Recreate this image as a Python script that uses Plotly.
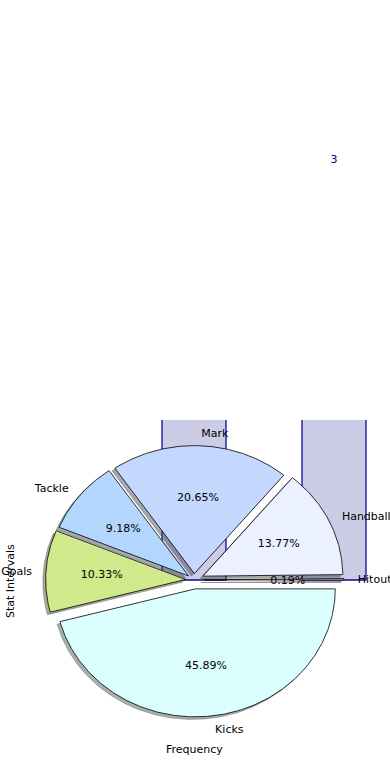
import numpy as np
import plotly.graph_objects as go

# ---- data ----
labels = ["Hitout", "Handball", "Mark", "Tackle", "Goals", "Kicks"]
shares = [0.19, 13.77, 20.65, 9.18, 10.33, 45.89]
bar_x = [0, 1]
bar_heights = [5, 3]
bar_labels = ["5", "3"]

# ---- style ----
colors = ["#e6e6fa", "#ebf1fe", "#c4d8ff", "#b3d6ff", "#cfe98b", "#dbffff"]
explode = [0.07, 0.07, 0.05, 0.05, 0.06, 0.07]
FONT = "DejaVu Sans"
FS = 11
W, H = 390, 780

fig = go.Figure()

# bars (clipped to the pie axes)
fig.add_trace(go.Bar(
    x=bar_x, y=bar_heights, width=0.457,
    marker=dict(color="rgba(0,0,128,0.2)", line=dict(color="#0a0a96", width=1.3)),
    xaxis="x", yaxis="y", showlegend=False, hoverinfo="skip"))

# pie geometry in data coordinates (radius 1, centre 0,0)
fr = np.array(shares, dtype=float) / np.sum(shares)
edges = np.concatenate([[0.0], np.cumsum(fr)]) * 2 * np.pi


def hex_rgb(h):
    h = h.lstrip("#")
    return [int(h[i:i + 2], 16) for i in (0, 2, 4)]


wedges = []
for i, lab in enumerate(labels):
    t1, t2 = edges[i], edges[i + 1]
    mid = 0.5 * (t1 + t2)
    dx, dy = explode[i] * np.cos(mid), explode[i] * np.sin(mid)
    n = max(3, int(np.degrees(t2 - t1) * 2))
    t = np.linspace(t1, t2, n)
    xs = np.concatenate([[dx], dx + np.cos(t), [dx]])
    ys = np.concatenate([[dy], dy + np.sin(t), [dy]])
    wedges.append((xs, ys, mid, dx, dy))

# shadows
for i, (xs, ys, mid, dx, dy) in enumerate(wedges):
    r, g, b = [int(0.3 * c) for c in hex_rgb(colors[i])]
    sc = f"rgba({r},{g},{b},0.45)"
    fig.add_trace(go.Scatter(
        x=xs - 0.02, y=ys - 0.02, mode="lines", fill="toself",
        fillcolor=sc, line=dict(color=sc, width=0.8),
        xaxis="x", yaxis="y", showlegend=False, hoverinfo="skip"))

# wedges
for i, (xs, ys, mid, dx, dy) in enumerate(wedges):
    fig.add_trace(go.Scatter(
        x=xs, y=ys, mode="lines", fill="toself",
        fillcolor=colors[i], line=dict(color="black", width=0.8),
        xaxis="x", yaxis="y", showlegend=False, hoverinfo="skip"))

# percentage texts and labels
for i, (xs, ys, mid, dx, dy) in enumerate(wedges):
    px_ = dx + 0.6 * np.cos(mid)
    py_ = dy + 0.6 * np.sin(mid)
    fig.add_trace(go.Scatter(
        x=[px_], y=[py_ - 0.01], mode="text", text=[f"{shares[i]:.2f}%"],
        textposition="middle center", textfont=dict(family=FONT, size=FS, color="black"),
        xaxis="x", yaxis="y", showlegend=False, hoverinfo="skip", cliponaxis=False))
    lx = dx + 1.1 * np.cos(mid)
    ly = dy + 1.1 * np.sin(mid)
    fig.add_trace(go.Scatter(
        x=[lx], y=[ly - 0.012], mode="text", text=[labels[i]],
        textposition="middle right" if lx > 0 else "middle left",
        textfont=dict(family=FONT, size=FS, color="black"),
        xaxis="x", yaxis="y", showlegend=False, hoverinfo="skip", cliponaxis=False))

ax_left, ax_right, ax_top, ax_bottom = 19, 369, 420, 740
y_lo, y_hi = -1.25, 1.25
y2_hi = y_lo + (y_hi - y_lo) * ax_bottom / (ax_bottom - ax_top)

# bar value labels (not clipped); only those that land on the page
lab_x = [x for x, h in zip(bar_x, bar_heights) if h + 0.28 < y2_hi - 0.1]
lab_y = [h + 0.28 for h in bar_heights if h + 0.28 < y2_hi - 0.1]
lab_t = [t for t, h in zip(bar_labels, bar_heights) if h + 0.28 < y2_hi - 0.1]
fig.add_trace(go.Scatter(
    x=lab_x, y=lab_y, mode="text", text=lab_t,
    textposition="middle center", textfont=dict(family=FONT, size=FS, color="#000080"),
    xaxis="x", yaxis="y2", showlegend=False, hoverinfo="skip", cliponaxis=False))

fig.update_layout(
    width=W, height=H, autosize=False,
    margin=dict(l=0, r=0, t=0, b=0, pad=0),
    paper_bgcolor="white", plot_bgcolor="rgba(0,0,0,0)",
    xaxis=dict(domain=[ax_left / W, ax_right / W], range=[-1.25, 1.25], visible=False,
               anchor="y", fixedrange=True),
    yaxis=dict(domain=[(H - ax_bottom) / H, (H - ax_top) / H], range=[y_lo, y_hi],
               visible=False, anchor="x", fixedrange=True),
    yaxis2=dict(domain=[(H - ax_bottom) / H, 1.0], range=[y_lo, y2_hi],
                visible=False, anchor="x", fixedrange=True),
    annotations=[
        dict(text="Frequency", xref="paper", yref="paper", x=194 / W, y=(H - 749) / H,
             xanchor="center", yanchor="middle", showarrow=False,
             font=dict(family=FONT, size=FS, color="black")),
        dict(text="Stat Intervals", xref="paper", yref="paper", x=10 / W, y=(H - 581) / H,
             xanchor="center", yanchor="middle", showarrow=False, textangle=-90,
             font=dict(family=FONT, size=FS, color="black")),
    ],
)

fig.write_html(
    "out.html",
    config={"displayModeBar": False, "staticPlot": True},
    post_script="document.body.style.margin='0px';document.body.style.overflow='hidden';",
)
